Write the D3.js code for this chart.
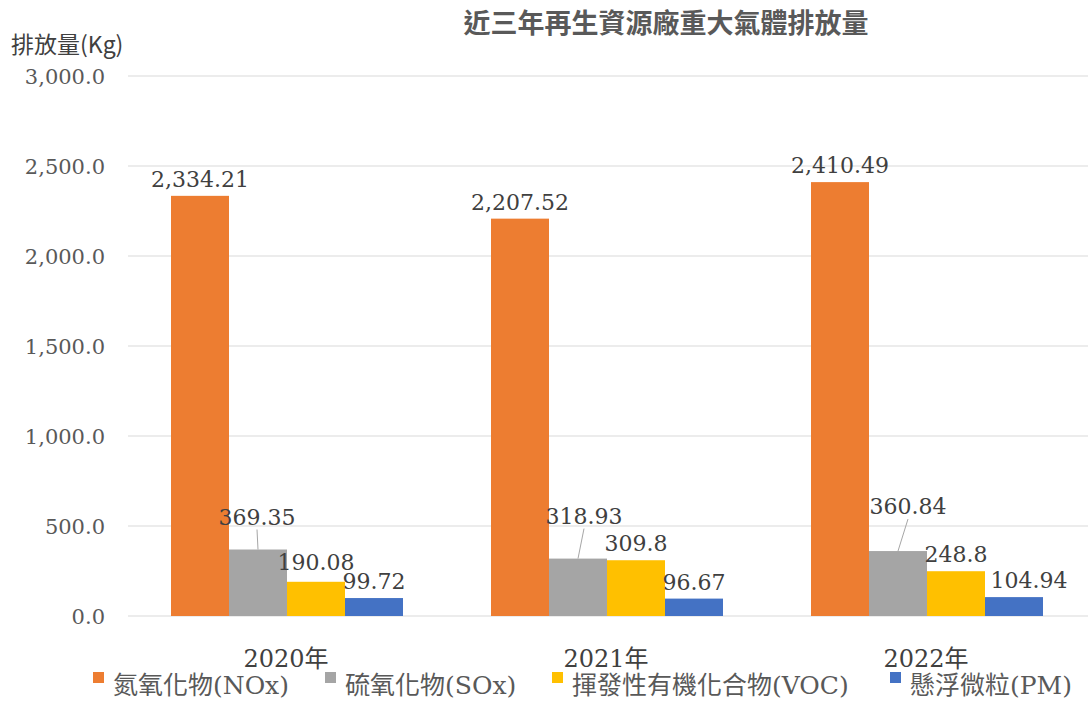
<!DOCTYPE html>
<html>
<head>
<meta charset="utf-8">
<script src="https://cdn.jsdelivr.net/npm/d3@7"></script>
<style>
  html, body { margin: 0; padding: 0; background: #fff; }
  svg { display: block; }
</style>
</head>
<body>
<svg id="chart" width="1088" height="701"></svg>
<script>
// ---- data ----
const categories = ["2020年", "2021年", "2022年"];
const seriesNames = ["氮氧化物(NOx)", "硫氧化物(SOx)", "揮發性有機化合物(VOC)", "懸浮微粒(PM)"];
const noxValues = [2334.21, 2207.52, 2410.49];
const soxValues = [369.35, 318.93, 360.84];
const vocValues = [190.08, 309.8, 248.8];
const pmValues = [99.72, 96.67, 104.94];
const yTicks = [0, 500, 1000, 1500, 2000, 2500, 3000];
const labelTexts = [
  ["2,334.21", "2,207.52", "2,410.49"],
  ["369.35", "318.93", "360.84"],
  ["190.08", "309.8", "248.8"],
  ["99.72", "96.67", "104.94"]
];

// ---- style ----
const colors = ["#ED7D31", "#A5A5A5", "#FFC000", "#4472C4"];
const labelNudge = [
  [[0, 0], [0, 0], [0, 0]],
  [[-1, -16], [6, -26], [10, -28]],
  [[0, -3], [0, 0], [0, 0]],
  [[0, 0], [0, 0], [15, 0]]
];
const leaderSeries = 1;
const legendX = [93, 325, 552, 890];
const serif = "'DejaVu Serif', 'Noto Sans CJK TC', serif";
const cjk = "'Noto Sans CJK TC', 'Noto Sans', sans-serif";

const seriesValues = [noxValues, soxValues, vocValues, pmValues];

const svg = d3.select("#chart");
const plotL = 128, plotR = 1088, plotT = 76, plotB = 616;

const y = d3.scaleLinear().domain([0, 3000]).range([plotB, plotT]);
const x0 = d3.scaleBand().domain(categories).range([plotL, plotR]).padding(0);
const x1 = d3.scaleBand().domain(d3.range(seriesNames.length)).range([43, 275]).padding(0);

// gridlines
svg.append("g").selectAll("line").data(yTicks).join("line")
  .attr("x1", plotL).attr("x2", plotR)
  .attr("y1", d => y(d)).attr("y2", d => y(d))
  .attr("stroke", "#D9D9D9").attr("stroke-width", 1);

// y tick labels
const fmt = d3.format(",.1f");
svg.append("g").selectAll("text").data(yTicks).join("text")
  .attr("x", 105).attr("y", d => y(d) + 8)
  .attr("text-anchor", "end")
  .attr("font-family", serif).attr("font-size", 21)
  .attr("fill", "#595959")
  .text(d => fmt(d));

// bars
const groups = svg.append("g").selectAll("g").data(categories).join("g")
  .attr("transform", c => `translate(${x0(c)},0)`);

groups.selectAll("rect")
  .data((c, ci) => seriesValues.map((vals, si) => ({ si, ci, v: vals[ci] })))
  .join("rect")
  .attr("x", d => x1(d.si))
  .attr("width", x1.bandwidth())
  .attr("y", d => y(d.v))
  .attr("height", d => y(0) - y(d.v))
  .attr("fill", d => colors[d.si]);

// data labels
const allPts = [];
seriesValues.forEach((vals, si) => vals.forEach((v, ci) => allPts.push({ si, ci, v })));

const labelG = svg.append("g");
allPts.forEach(d => {
  const cx = x0(categories[d.ci]) + x1(d.si) + x1.bandwidth() / 2;
  const topY = y(d.v);
  const [dx, dy] = labelNudge[d.si][d.ci];
  const lx = cx + dx, ly = topY - 9 + dy;
  if (d.si === leaderSeries) {
    labelG.append("line")
      .attr("x1", cx).attr("y1", topY)
      .attr("x2", lx).attr("y2", ly + 5)
      .attr("stroke", "#A6A6A6").attr("stroke-width", 1);
  }
  labelG.append("text")
    .attr("x", lx).attr("y", ly)
    .attr("text-anchor", "middle")
    .attr("font-family", serif).attr("font-size", 22)
    .attr("fill", "#404040")
    .text(labelTexts[d.si][d.ci]);
});

// category labels
svg.append("g").selectAll("text").data(categories).join("text")
  .attr("x", c => x0(c) + x0.bandwidth() / 2 - 2)
  .attr("y", 667)
  .attr("text-anchor", "middle")
  .attr("font-family", serif).attr("font-size", 24)
  .attr("fill", "#404040")
  .text(c => c);

// title
svg.append("text")
  .attr("x", 666).attr("y", 33)
  .attr("text-anchor", "middle")
  .attr("font-family", cjk).attr("font-size", 27).attr("font-weight", 700)
  .attr("fill", "#595959")
  .text("近三年再生資源廠重大氣體排放量");

// y axis title
svg.append("text")
  .attr("x", 11).attr("y", 53)
  .attr("font-family", cjk).attr("font-size", 23)
  .attr("fill", "#404040")
  .text("排放量(Kg)");

// legend
const leg = svg.append("g").selectAll("g").data(seriesNames).join("g")
  .attr("transform", (d, i) => `translate(${legendX[i]},0)`);
leg.append("rect").attr("x", 0).attr("y", 672).attr("width", 11).attr("height", 11)
  .attr("fill", (d, i) => colors[i]);
leg.append("text").attr("x", 20).attr("y", 694)
  .attr("font-family", serif).attr("font-size", 25)
  .attr("fill", "#595959")
  .text(d => d);
</script>
</body>
</html>
